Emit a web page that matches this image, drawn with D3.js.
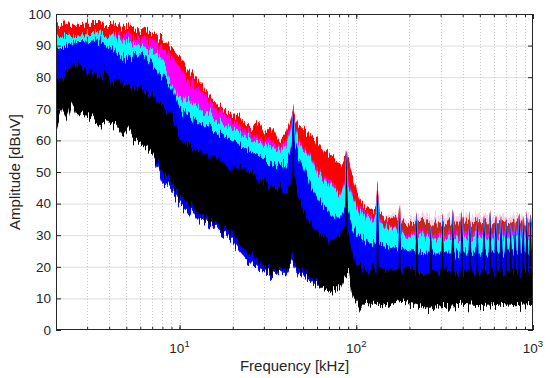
<!DOCTYPE html>
<html>
<head>
<meta charset="utf-8">
<script src="https://cdn.jsdelivr.net/npm/d3@7"></script>
<style>
  body { margin: 0; background: #fff; }
  svg { display: block; font-family: "Liberation Sans", Arial, Helvetica, sans-serif; }
</style>
</head>
<body>
<svg id="chart" width="550" height="378"></svg>
<script>
// frequency grid (kHz) the envelopes were read at
const freqKHz = [2, 2.15, 2.3, 2.45, 2.6, 2.8, 3, 3.2, 3.5, 3.8,
  4.1, 4.4, 4.8, 5.1, 5.5, 6, 6.5, 7, 7.5, 8,
  8.5, 9, 9.5, 10, 11, 12, 13, 14.5, 16, 18,
  20, 22, 25, 28, 31, 34, 37, 40, 42, 43.5,
  45, 47, 50, 55, 60, 65, 71, 77, 82, 86,
  91, 95, 100, 105, 112, 120, 128, 137, 150, 165,
  185, 210, 250, 300, 400, 500, 650, 800, 1000];

// upper envelopes, dBuV
const redHi = [95.5, 96.5, 96.8, 96.5, 97, 96.8, 97, 96.8, 96.8, 96.5,
  96.5, 96.2, 96, 95.8, 95.5, 95, 94.5, 93.8, 93, 92,
  90.8, 89.5, 88, 86.5, 83, 80.5, 78, 75, 72, 69.5,
  68, 67.5, 64.5, 66.5, 62, 64, 60, 62, 65, 69,
  68, 65, 64, 62, 60, 57, 55.5, 53.5, 53, 55,
  53, 49, 45, 41, 39, 38, 38.5, 37, 35.5, 35,
  35, 34.5, 34, 34, 34, 33.8, 33.8, 34, 34];
const magentaHi = [92.5, 92.8, 93, 93.2, 93.5, 93.5, 93.6, 93.7, 93.5, 93.2,
  93.1, 93.2, 93, 92.8, 92.6, 92.3, 91.8, 91.2, 90.3, 89.3,
  88, 86.5, 85, 83, 79.5, 77.5, 75.5, 73, 70.5, 68,
  66, 64.5, 63, 61.5, 60, 59, 58.5, 59.5, 63, 67,
  65, 61, 58, 55, 51.5, 49, 47, 45, 44, 48,
  46, 43, 40, 38.5, 37, 36, 36, 35, 33, 32,
  31.5, 31, 30.5, 30.5, 30.5, 30.5, 30.5, 30.5, 30.5];
const cyanHi = [92.5, 92.8, 93, 93.2, 93.5, 93.5, 93.6, 93.7, 93.5, 93.2,
  92.8, 92.3, 91.5, 91, 90.6, 90, 89, 88.2, 87.5, 85.5,
  82, 78, 75, 74, 73, 71.5, 70.5, 68.5, 67, 65,
  63.5, 62.5, 61, 60, 58.5, 57.5, 57, 58, 61.5, 65,
  64, 60, 57, 54, 50.5, 48, 46, 44, 43, 47,
  45, 42, 39, 37.5, 36, 35, 35, 34, 32.6, 31.5,
  30.6, 30, 29.5, 29.2, 29, 29, 29, 29, 29];
const blueHi = [88.5, 89.3, 90, 91, 91.8, 91.8, 91.5, 91.3, 91.2, 90.5,
  89.5, 88, 86, 86.5, 87.3, 87.6, 86.5, 84.5, 82.5, 80.5,
  79, 77, 73.5, 70.5, 68.5, 67, 66, 64.5, 63, 61.5,
  60, 58.5, 56.5, 55, 53.5, 52.5, 52, 53, 56, 60,
  59, 56, 51.5, 46, 42, 39, 37, 35, 35, 38,
  37, 33, 30.5, 29.5, 28.5, 27.5, 27, 27, 26.5, 26,
  25.5, 25, 24.5, 24.5, 24.5, 24.5, 24.5, 24.5, 24.5];
const blackHi = [78, 80.5, 82, 84.5, 83, 83.5, 81.5, 82.5, 80, 81,
  79.5, 80, 77.5, 78, 76, 77, 75, 74.5, 72, 71,
  69, 68, 65.5, 61, 59, 57.5, 56.5, 55.5, 54.5, 53,
  52, 51, 49, 47.5, 46.5, 45.5, 44.5, 43.5, 46, 50,
  48, 42, 38, 34, 31.5, 29.5, 28.5, 28.5, 30, 32,
  30, 24, 21, 20, 19.5, 20, 20, 19.5, 19.5, 19,
  19, 19, 18.5, 18.5, 18.5, 18.5, 18.5, 18.5, 18.5];

// lower envelopes (blue one also used as floor for red/magenta/cyan)
const blueLo = [67, 72, 69, 74, 71, 72, 70, 71, 68, 69,
  66, 67, 64, 65, 62, 61, 59, 56, 52, 47,
  46, 44, 42, 40, 38, 37, 35, 33.5, 32, 30,
  28, 24.5, 21, 18.5, 17.5, 17, 17.5, 18, 20, 22,
  19.5, 18, 17.5, 16, 14.5, 13, 13, 13.5, 15, 18,
  18, 13, 11, 10, 11, 11, 11, 11, 11, 11,
  11, 11, 10, 10, 10.5, 10.5, 10.5, 10.5, 10.5];
const blackLo = [64, 70, 66, 72, 68, 69, 67, 68, 65, 66.5,
  64, 65, 61, 63, 60, 59, 58, 55.5, 53, 51,
  48, 46, 44, 42, 40.5, 38.5, 36.5, 35, 33, 31.5,
  30, 27, 24, 21, 19, 18, 18.5, 19.5, 21, 24,
  21, 19.5, 19, 17, 15, 13, 12, 12.5, 14, 17,
  17, 11, 9, 7, 8.5, 8, 8, 8, 7.5, 8.5,
  9, 8, 6.5, 7.5, 8, 7.5, 8, 7.5, 8];

// faint pink fringe above the red band at high frequency
const hazeKHz = [118, 135, 200, 400, 1000];
const hazeHi = [35.5, 36.5, 36, 36, 36];
const hazeLo = [33, 33, 33, 33, 33];

// switching harmonics (44 kHz fundamental) and their peak levels
const harmonicKHz = [44, 88, 132, 176, 220, 264, 308, 352, 396, 440, 484,
  528, 572, 616, 660, 704, 748, 792, 836, 880, 924, 968];
const harmonicPeak = [71, 58, 47, 40, 37, 34.5, 35.5, 37.5, 37.5, 37, 35,
  35.5, 37, 37, 36, 35, 34.5, 35.5, 37, 37.5, 37.5, 37];

const yTicks = [0, 10, 20, 30, 40, 50, 60, 70, 80, 90, 100];
const xDecades = [10, 100, 1000];

const W = 550, H = 378;
const margin = {top: 14, right: 17, bottom: 48, left: 56};
const ink = "#262626";

const x = d3.scaleLog().domain([2, 1000]).range([margin.left, W - margin.right]);
const y = d3.scaleLinear().domain([0, 100]).range([H - margin.bottom, margin.top]);

const svg = d3.select("#chart");
const defs = svg.append("defs");

defs.append("clipPath").attr("id", "plotClip")
  .append("rect")
  .attr("x", margin.left).attr("y", margin.top)
  .attr("width", W - margin.left - margin.right)
  .attr("height", H - margin.top - margin.bottom);

// vertical jitter so the band edges look like dense spectrum traces
const filt = defs.append("filter").attr("id", "rough")
  .attr("filterUnits", "userSpaceOnUse")
  .attr("x", 0).attr("y", 0).attr("width", W).attr("height", H)
  .attr("color-interpolation-filters", "sRGB");
filt.append("feTurbulence").attr("type", "fractalNoise")
  .attr("baseFrequency", "0.6 0.02").attr("numOctaves", 2).attr("seed", 7)
  .attr("result", "noise");
filt.append("feColorMatrix").attr("in", "noise").attr("type", "matrix")
  .attr("values", "0 0 0 0 0.5  1 0 0 0 0  0 0 0 0 0  0 0 0 0 1")
  .attr("result", "map");
filt.append("feDisplacementMap").attr("in", "SourceGraphic").attr("in2", "map")
  .attr("scale", 22).attr("xChannelSelector", "R").attr("yChannelSelector", "G");

const grad = defs.append("linearGradient").attr("id", "redShade")
  .attr("gradientUnits", "userSpaceOnUse")
  .attr("x1", x(110)).attr("x2", x(230)).attr("y1", 0).attr("y2", 0);
grad.append("stop").attr("offset", 0).attr("stop-color", "#ff0000");
grad.append("stop").attr("offset", 1).attr("stop-color", "#c4281c");

// grid
const minorX = x.ticks().filter(f => f > 2 && f < 1000);
svg.append("g").selectAll("line").data(yTicks.slice(1, -1)).join("line")
  .attr("x1", margin.left).attr("x2", W - margin.right)
  .attr("y1", d => y(d) + 0.5).attr("y2", d => y(d) + 0.5)
  .attr("stroke", "#dcdcdc").attr("stroke-width", 1);
svg.append("g").selectAll("line").data(minorX).join("line")
  .attr("x1", d => Math.round(x(d)) + 0.5).attr("x2", d => Math.round(x(d)) + 0.5)
  .attr("y1", margin.top).attr("y2", H - margin.bottom)
  .attr("stroke", "#c8c8c8").attr("stroke-width", 1)
  .attr("stroke-dasharray", "1,2");

// spectra
const series = [
  {hi: redHi, lo: blueLo, fill: "url(#redShade)", drop: 0, hw: 3},
  {hi: magentaHi, lo: blueLo, fill: "#ff00ff", drop: 0.5, hw: 2.6},
  {hi: cyanHi, lo: blueLo, fill: "#00ffff", drop: 0.8, hw: 2.3},
  {hi: blueHi, lo: blueLo, fill: "#0000ff", drop: 1, hw: 2},
  {hi: blackHi, lo: blackLo, fill: "#000000", drop: 1.8, hw: 1.2}
];

const plot = svg.append("g").attr("clip-path", "url(#plotClip)");
const area = d3.area()
  .x(d => x(d.f))
  .y0(d => y(d.lo))
  .y1(d => y(d.hi));

plot.append("g").attr("filter", "url(#rough)")
  .append("path")
  .datum(hazeKHz.map((f, i) => ({f: f, hi: hazeHi[i], lo: hazeLo[i]})))
  .attr("fill", "#f8d2e6")
  .attr("d", area);

series.forEach(s => {
  const g = plot.append("g").attr("filter", "url(#rough)").attr("fill", s.fill);
  const rows = freqKHz.map((f, i) => ({f: f, hi: s.hi[i], lo: s.lo[i]}));
  g.append("path").datum(rows).attr("d", area);

  const hiAt = d3.scaleLog().domain(freqKHz).range(s.hi);
  g.selectAll("path.spike")
    .data(harmonicKHz.map((h, i) => ({h: h, peak: harmonicPeak[i]})))
    .join("path")
    .attr("class", "spike")
    .attr("d", d => {
      const cx = x(d.h);
      const base = y(hiAt(d.h) - 4);
      const top = y(d.peak - s.drop);
      return "M" + (cx - s.hw) + "," + base + "L" + cx + "," + top + "L" + (cx + s.hw) + "," + base + "Z";
    });
});

// box
svg.append("rect")
  .attr("x", margin.left + 0.5).attr("y", margin.top + 0.5)
  .attr("width", W - margin.left - margin.right - 1)
  .attr("height", H - margin.top - margin.bottom - 1)
  .attr("fill", "none").attr("stroke", ink).attr("stroke-width", 1);

function styleAxis(g) {
  g.select(".domain").remove();
  g.selectAll("line").attr("stroke", ink);
  g.attr("font-family", null).attr("font-size", null);
}

// y axis left with labels, right without
svg.append("g")
  .attr("transform", "translate(" + margin.left + ",0)")
  .call(d3.axisLeft(y).tickValues(yTicks).tickSize(-5).tickPadding(5))
  .call(styleAxis)
  .selectAll("text")
  .attr("fill", ink).style("font-size", "13.5px");

svg.append("g")
  .attr("transform", "translate(" + (W - margin.right) + ",0)")
  .call(d3.axisRight(y).tickValues(yTicks).tickSize(-5).tickFormat(""))
  .call(styleAxis);

// x ticks, bottom and top, minor and major
[H - margin.bottom, margin.top].forEach((ty, k) => {
  const mk = k === 0 ? d3.axisBottom : d3.axisTop;
  svg.append("g")
    .attr("transform", "translate(0," + ty + ")")
    .call(mk(x).tickValues(minorX).tickSize(-3).tickFormat(""))
    .call(styleAxis);
  svg.append("g")
    .attr("transform", "translate(0," + ty + ")")
    .call(mk(x).tickValues(xDecades).tickSize(-5).tickFormat(""))
    .call(styleAxis);
});

// decade labels 10^n
const xl = svg.append("g").attr("fill", ink);
xDecades.forEach(v => {
  const t = xl.append("text")
    .attr("x", x(v)).attr("y", 353)
    .attr("text-anchor", "middle")
    .style("font-size", "13.5px");
  t.append("tspan").text("10");
  t.append("tspan").attr("dy", -6).style("font-size", "9.5px").text(Math.round(Math.log10(v)));
});

svg.append("text")
  .attr("x", (margin.left + W - margin.right) / 2).attr("y", 371)
  .attr("text-anchor", "middle").attr("fill", ink)
  .style("font-size", "15px")
  .text("Frequency [kHz]");

svg.append("text")
  .attr("transform", "translate(20," + (margin.top + H - margin.bottom) / 2 + ") rotate(-90)")
  .attr("text-anchor", "middle").attr("fill", ink)
  .style("font-size", "15px")
  .text("Amplitude [dBuV]");
</script>
</body>
</html>
